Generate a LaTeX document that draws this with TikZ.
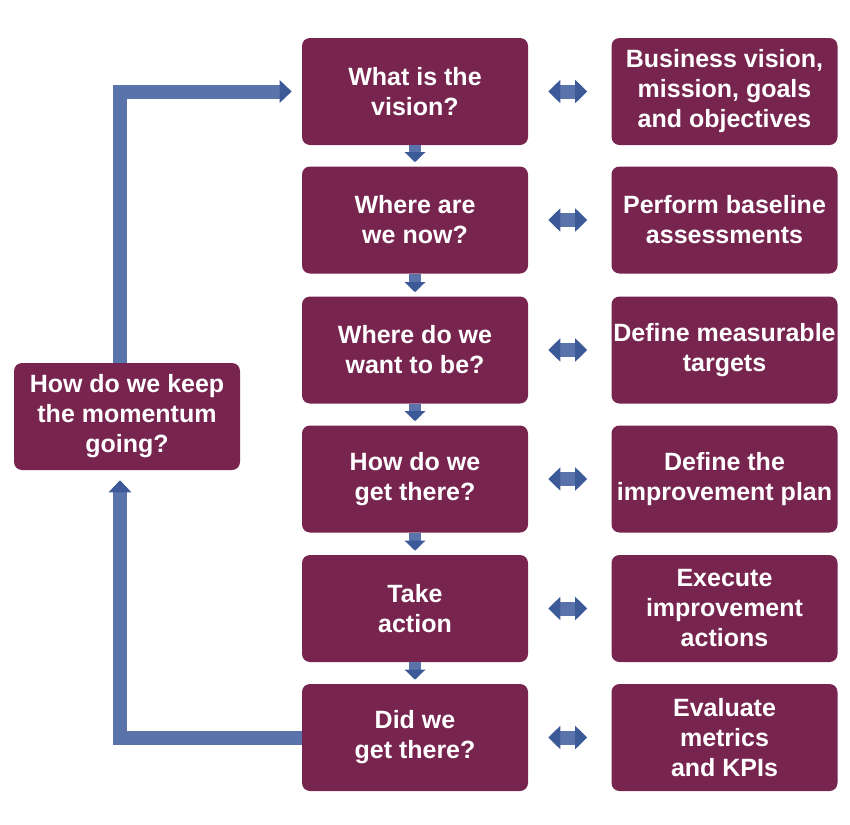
\documentclass[tikz,border=0pt]{standalone}
\usepackage{fontspec}
\setmainfont{Liberation Sans}
\usetikzlibrary{arrows.meta}

\definecolor{boxred}{HTML}{77244F}
\definecolor{arrowblue}{HTML}{5A73AB}
\definecolor{arrowdark}{HTML}{3D5A98}

\tikzset{
	stepbox/.style={fill=boxred, rounded corners=6pt, text=white, align=center,
		font=\bfseries\fontsize{18.75}{22.5}\selectfont,
		minimum width=169.5pt, minimum height=80.25pt, inner sep=0pt},
	downarrow/.style={draw=arrowblue, line width=9pt, shorten >=3pt,
		-{Triangle[width=15pt, length=7.5pt, color=arrowdark]}},
	linkarrow/.style={draw=arrowblue, line width=10.5pt, shorten <=15pt, shorten >=18pt,
		{Triangle[width=17pt, length=9pt, color=arrowdark]}-{Triangle[width=17pt, length=9pt, color=arrowdark]}},
	looparrow/.style={draw=arrowblue, line width=10.5pt,
		-{Triangle[width=16.5pt, length=9pt, color=arrowdark]}}
}

\begin{document}
\begin{tikzpicture}[x=0.75pt, y=-0.75pt]

	\useasboundingbox (0,0) rectangle (850,825);

	\node[stepbox] (vision) at (415,91.5) {What is the\\vision?};
	\node[stepbox] (now)    at (415,220)  {Where are\\we now?};
	\node[stepbox] (want)   at (415,350)  {Where do we\\want to be?};
	\node[stepbox] (get)    at (415,479)  {How do we\\get there?};
	\node[stepbox] (action) at (415,608.5) {Take\\action};
	\node[stepbox] (did)    at (415,737.5) {Did we\\get there?};

	\node[stepbox] (goals)    at (724.5,91.5) {Business vision,\\mission, goals\\and objectives};
	\node[stepbox] (baseline) at (724.5,220)  {Perform baseline\\assessments};
	\node[stepbox] (targets)  at (724.5,350)  {Define measurable\\targets};
	\node[stepbox] (plan)     at (724.5,479)  {Define the\\improvement plan};
	\node[stepbox] (execute)  at (724.5,608.5) {Execute\\improvement\\actions};
	\node[stepbox] (metrics)  at (724.5,737.5) {Evaluate\\metrics\\and KPIs};

	\node[stepbox] (keep) at (127,416.5) {How do we keep\\the momentum\\going?};

	\draw[downarrow] (vision) -- (now);
	\draw[downarrow] (now) -- (want);
	\draw[downarrow] (want) -- (get);
	\draw[downarrow] (get) -- (action);
	\draw[downarrow] (action) -- (did);

	\draw[linkarrow] (vision) -- (goals);
	\draw[linkarrow] (now) -- (baseline);
	\draw[linkarrow] (want) -- (targets);
	\draw[linkarrow] (get) -- (plan);
	\draw[linkarrow] (action) -- (execute);
	\draw[linkarrow] (did) -- (metrics);

	% loop back to the start
	\draw[looparrow, shorten >=7.5pt] (did.west) -| ([shift={(-7,0)}]keep.south);
	\draw[looparrow, shorten >=7.5pt] ([shift={(-7,0)}]keep.north) |- (vision.west);

\end{tikzpicture}
\end{document}
